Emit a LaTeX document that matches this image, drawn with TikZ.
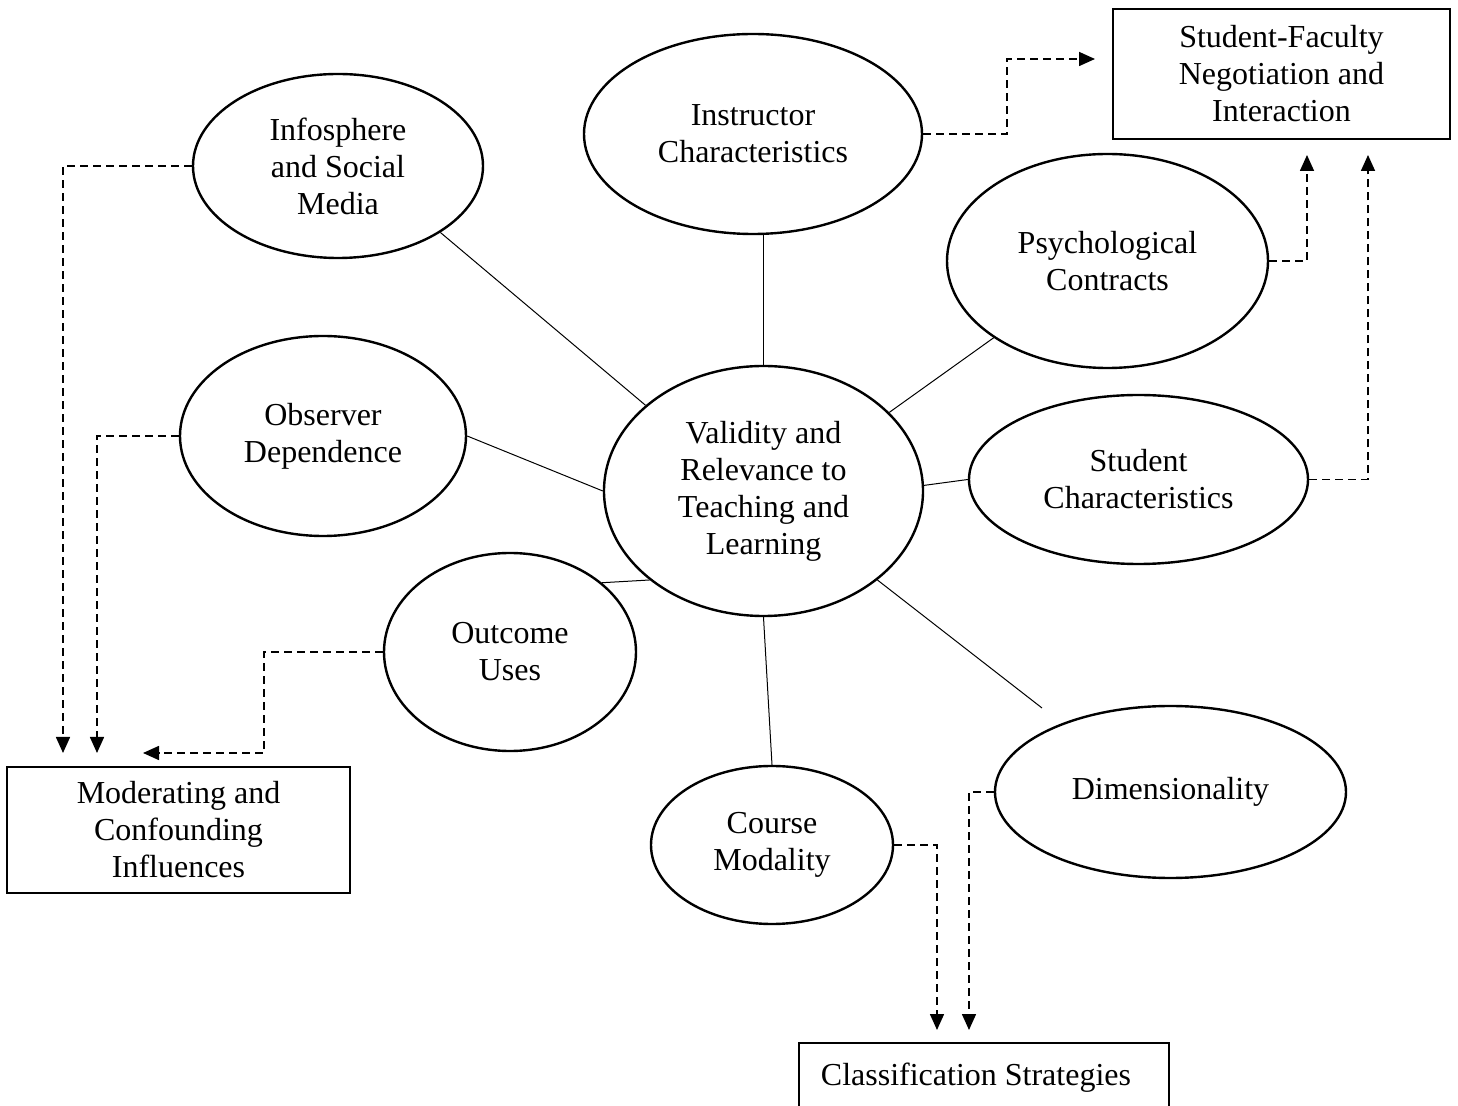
\documentclass[tikz,border=0pt]{standalone}
\usepackage{fontspec}
\setmainfont{Liberation Serif}
\usetikzlibrary{shapes.geometric,arrows.meta}
\tikzset{
  ell/.style={draw, ellipse, line width=1.2pt, inner sep=0pt, align=center,
    font=\fontsize{16pt}{18.5pt}\selectfont},
  boxnode/.style={draw, rectangle, line width=0.8pt, inner sep=0pt, align=center,
    font=\fontsize{16pt}{18.5pt}\selectfont},
  spoke/.style={line width=0.5pt},
  darr/.style={line width=0.8pt, dash pattern=on 4pt off 2.5pt,
    -{Triangle[length=8pt,width=7pt]}},
}
\begin{document}
\begin{tikzpicture}[x=0.5pt,y=-0.5pt]
\useasboundingbox (0,0) rectangle (1458,1106);
% ellipses
\node[ell, minimum width=145pt, minimum height=92pt] (info) at (338,166) {Infosphere\\and Social\\Media};
\node[ell, minimum width=169pt, minimum height=100pt] (ins) at (753,134) {Instructor\\Characteristics};
\node[ell, minimum width=160.5pt, minimum height=107pt] (psy) at (1107.5,261) {Psychological\\Contracts};
\node[ell, minimum width=143pt, minimum height=100pt] (obs) at (323,436) {Observer\\Dependence};
\node[ell, minimum width=159.5pt, minimum height=125pt] (C) at (763.5,491) {Validity and\\Relevance to\\Teaching and\\Learning};
\node[ell, minimum width=169.5pt, minimum height=84.5pt] (stu) at (1138.5,479.5) {Student\\Characteristics};
\node[ell, minimum width=126pt, minimum height=99pt] (out) at (510,652) {Outcome\\Uses};
\node[ell, minimum width=121pt, minimum height=79pt] (crs) at (772,845) {Course\\Modality};
\node[ell, minimum width=175.5pt, minimum height=86pt] (dim) at (1170.5,792) {Dimensionality};
% boxes
\node[boxnode, minimum width=168.5pt, minimum height=65pt] (sf) at (1281.5,74) {Student-Faculty\\Negotiation and\\Interaction};
\node[boxnode, minimum width=171.5pt, minimum height=63pt] (mod) at (178.5,830) {Moderating and\\Confounding\\Influences};
\node[boxnode, minimum width=185pt, minimum height=35pt] (cls) at (984,1078) {\hspace*{-8pt}Classification Strategies};
% arrow tip coordinates and bends
\coordinate (mi1) at (63,753);
\coordinate (mi2) at (97,753);
\coordinate (mi3) at (143,753);
\coordinate (b3) at (264,753);
\coordinate (sf1) at (1095,59);
\coordinate (b1) at (1007,59);
\coordinate (sf2) at (1307,155);
\coordinate (sf3) at (1368,155);
\coordinate (cl1) at (937,1030);
\coordinate (cl2) at (969,1030);
\coordinate (dimend) at (1042,708);
% spokes
\draw[spoke] (C.144) -- (info.-33.6);
\draw[spoke] (C.north) -- (C.north |- ins.south);
\draw[spoke] (C.32.6) -- (psy.-146.1);
\draw[spoke] (obs.east) -- (C.west);
\draw[spoke] (C.2) -- (stu.west);
\draw[spoke] (C.-142.2) -- (out.37.7);
\draw[spoke] (C.south) -- (crs.north);
\draw[spoke] (C.-38.1) -- (dimend);
% dashed arrows
\draw[darr] (info.west) -| (mi1);
\draw[darr] (obs.west) -| (mi2);
\draw[darr] (out.west) -| (b3) -- (mi3);
\draw[darr] (ins.east) -| (b1) -- (sf1);
\draw[darr] (psy.east) -| (sf2);
\draw[darr] (stu.east) -| (sf3);
\draw[darr] (crs.east) -| (cl1);
\draw[darr] (dim.west) -| (cl2);
\end{tikzpicture}
\end{document}
